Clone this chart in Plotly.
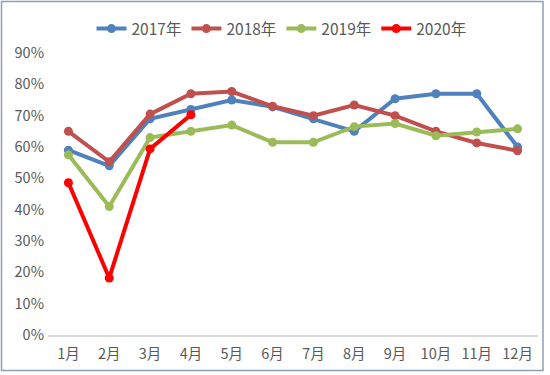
import plotly.graph_objects as go

months = ["1月", "2月", "3月", "4月", "5月", "6月", "7月", "8月", "9月", "10月", "11月", "12月"]
s2017 = [0.59, 0.54, 0.69, 0.72, 0.75, 0.728, 0.69, 0.65, 0.754, 0.77, 0.77, 0.60]
s2018 = [0.65, 0.553, 0.705, 0.77, 0.777, 0.73, 0.70, 0.734, 0.70, 0.65, 0.613, 0.588]
s2019 = [0.575, 0.41, 0.63, 0.65, 0.67, 0.615, 0.615, 0.665, 0.675, 0.636, 0.648, 0.658]
s2020 = [0.486, 0.182, 0.594, 0.703]
names = ["2017年", "2018年", "2019年", "2020年"]
colors = ["#4F81BD", "#C0504D", "#9BBB59", "#FF0000"]
yticks = [0, 0.1, 0.2, 0.3, 0.4, 0.5, 0.6, 0.7, 0.8, 0.9]

fig = go.Figure()
for name, vals, c in zip(names, [s2017, s2018, s2019, s2020], colors):
    fig.add_trace(go.Scatter(
        x=months[:len(vals)], y=vals, name=name, mode="lines+markers",
        line=dict(color=c, width=4), marker=dict(color=c, size=9),
    ))

font = "Microsoft YaHei, Noto Sans CJK SC, sans-serif"
fig.update_layout(
    width=550, height=375,
    margin=dict(l=48, r=12, t=53, b=40, autoexpand=False),
    paper_bgcolor="white", plot_bgcolor="white",
    font=dict(family=font, size=14, color="#595959"),
    showlegend=True,
    legend=dict(orientation="h", x=(281.5 - 48) / 490, xanchor="center", y=1.085, yanchor="middle",
                font=dict(size=15.5, color="#595959"), itemwidth=30,
                bgcolor="rgba(0,0,0,0)"),
    xaxis=dict(type="category", categoryorder="array", categoryarray=months,
               range=[-0.5, 11.5], showgrid=False, showline=True, automargin=False,
               linecolor="#D9D9D9", linewidth=1.5, ticks="", zeroline=False,
               ticklabelstandoff=5,
               tickfont=dict(size=14.5, color="#595959")),
    yaxis=dict(range=[0, 0.9], tickvals=yticks, tickformat=".0%", showgrid=False,
               showline=False, zeroline=False, ticks="", automargin=False,
               ticklabelstandoff=3,
               tickfont=dict(size=14.5, color="#595959")),
    shapes=[dict(type="rect", xref="paper", yref="paper",
                 x0=(1.5 - 48) / 490, x1=(543 - 48) / 490,
                 y0=(335 - 370.5) / 282, y1=(335 - 1.5) / 282,
                 line=dict(color="#8EA0B8", width=1.5), fillcolor="rgba(0,0,0,0)",
                 layer="below")],
)

fig.write_html("out.html", config={"displayModeBar": False},
               post_script="document.body.style.margin='0';document.body.style.overflow='hidden';")
